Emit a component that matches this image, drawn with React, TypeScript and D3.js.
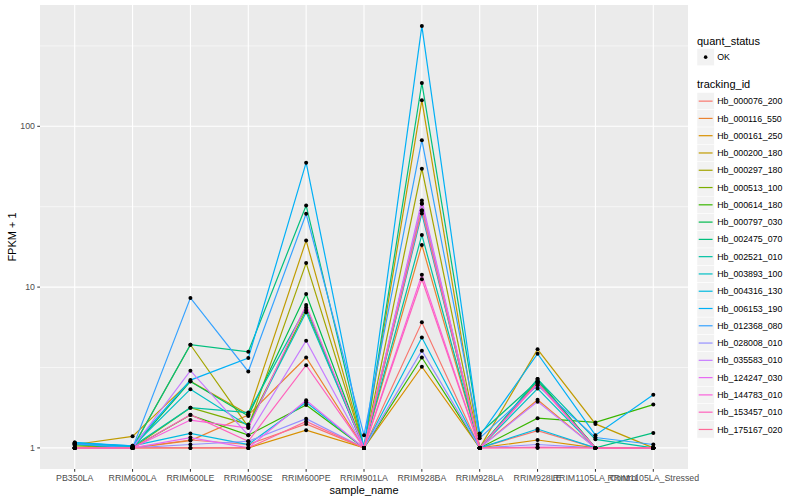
import React from "react";
import * as d3 from "d3";

const samples = [
  "PB350LA", "RRIM600LA", "RRIM600LE", "RRIM600SE", "RRIM600PE", "RRIM901LA",
  "RRIM928BA", "RRIM928LA", "RRIM928LE", "RRIM1105LA_Control", "RRIM1105LA_Stressed",
];

const trackingIds = [
  "Hb_000076_200", "Hb_000116_550", "Hb_000161_250", "Hb_000200_180", "Hb_000297_180",
  "Hb_000513_100", "Hb_000614_180", "Hb_000797_030", "Hb_002475_070", "Hb_002521_010",
  "Hb_003893_100", "Hb_004316_130", "Hb_006153_190", "Hb_012368_080", "Hb_028008_010",
  "Hb_035583_010", "Hb_124247_030", "Hb_144783_010", "Hb_153457_010", "Hb_175167_020",
];

const palette = [
  "#F8766D", "#EA8331", "#D89000", "#C09B00", "#A3A500", "#7CAE00", "#39B600", "#00BB4E",
  "#00BF7D", "#00C1A3", "#00BFC4", "#00BAE0", "#00B0F6", "#35A2FF", "#9590FF", "#C77CFF",
  "#E76BF3", "#FA62DB", "#FF62BC", "#FF6A98",
];

// FPKM + 1 per tracking id, in sample order
const fpkm: number[][] = [
  [1.0, 1.0, 1.12, 1.05, 1.41, 1.0, 6.04, 1.0, 1.28, 1.0, 1.0],
  [1.0, 1.0, 1.11, 1.6, 3.65, 1.0, 18.3, 1.0, 1.99, 1.0, 1.0],
  [1.0, 1.0, 1.0, 1.0, 1.29, 1.0, 3.2, 1.0, 1.12, 1.0, 1.0],
  [1.05, 1.18, 2.6, 1.62, 19.5, 1.0, 145, 1.0, 4.1, 1.41, 1.0],
  [1.03, 1.0, 4.38, 1.35, 14.1, 1.0, 54.5, 1.0, 2.55, 1.0, 1.0],
  [1.0, 1.0, 1.78, 1.4, 7.2, 1.0, 30, 1.0, 2.6, 1.0, 1.0],
  [1.0, 1.0, 1.6, 1.2, 1.85, 1.0, 3.65, 1.0, 1.53, 1.44, 1.86],
  [1.05, 1.0, 2.59, 1.58, 9.07, 1.0, 33, 1.0, 2.68, 1.0, 1.0],
  [1.05, 1.0, 4.38, 3.96, 32.2, 1.0, 186, 1.23, 2.6, 1.0, 1.24],
  [1.07, 1.02, 1.78, 1.66, 7.48, 1.0, 21.1, 1.0, 2.68, 1.13, 1.0],
  [1.08, 1.02, 2.32, 1.37, 6.97, 1.0, 28.7, 1.0, 2.34, 1.0, 1.0],
  [1.07, 1.03, 1.23, 1.05, 1.92, 1.0, 4.86, 1.0, 1.31, 1.0, 1.0],
  [1.08, 1.03, 2.64, 3.62, 59.4, 1.0, 420, 1.19, 3.85, 1.2, 2.14],
  [1.06, 1.0, 8.57, 2.99, 28.6, 1.2, 82, 1.15, 2.45, 1.16, 1.05],
  [1.0, 1.0, 1.05, 1.1, 1.52, 1.0, 4.02, 1.0, 1.05, 1.0, 1.0],
  [1.0, 1.0, 3.02, 1.2, 4.64, 1.0, 34.6, 1.0, 1.94, 1.0, 1.0],
  [1.0, 1.0, 1.16, 1.0, 1.98, 1.0, 33.1, 1.0, 1.01, 1.0, 1.0],
  [1.0, 1.0, 1.49, 1.33, 7.75, 1.0, 11.95, 1.0, 2.5, 1.0, 1.0],
  [1.0, 1.0, 1.61, 1.1, 3.27, 1.0, 11.2, 1.0, 2.55, 1.0, 1.0],
  [1.0, 1.0, 1.0, 1.0, 1.46, 1.0, 30, 1.0, 1.0, 1.0, 1.0],
];

const yTicks = [1, 10, 100];
const yMinor = [Math.pow(10, 0.5), Math.pow(10, 1.5), Math.pow(10, 2.5)];

const W = 800, H = 500;
const panel = { left: 40, right: 688, top: 5, bottom: 469 };
const FONT = "'Liberation Sans', Arial, Helvetica, sans-serif";

export default function App() {
  const all = fpkm.flat();
  const lmin = Math.log10(d3.min(all)!);
  const lmax = Math.log10(d3.max(all)!);
  const exp = (lmax - lmin) * 0.05;
  const y = d3.scaleLog()
    .domain([Math.pow(10, lmin - exp), Math.pow(10, lmax + exp)])
    .range([panel.bottom, panel.top]);
  const x = d3.scalePoint<string>()
    .domain(samples)
    .range([panel.left, panel.right])
    .padding(0.6);

  const line = d3.line<number>()
    .x((_, i) => x(samples[i])!)
    .y((v) => y(v));

  const legX = 697;
  const keySize = 17.28;

  return (
    <svg width={W} height={H} style={{ position: "absolute", left: 0, top: 0, background: "#fff" }}
      fontFamily={FONT}>
      <rect x={panel.left} y={panel.top} width={panel.right - panel.left}
        height={panel.bottom - panel.top} fill="#EBEBEB" />
      {yMinor.filter((v) => y(v) >= panel.top && y(v) <= panel.bottom).map((v, i) => (
        <line key={"ym" + i} x1={panel.left} x2={panel.right} y1={y(v)} y2={y(v)}
          stroke="#fff" strokeWidth={0.55} />
      ))}
      {yTicks.map((v, i) => (
        <line key={"yg" + i} x1={panel.left} x2={panel.right} y1={y(v)} y2={y(v)}
          stroke="#fff" strokeWidth={1.1} />
      ))}
      {samples.map((s) => (
        <line key={"xg" + s} x1={x(s)} x2={x(s)} y1={panel.top} y2={panel.bottom}
          stroke="#fff" strokeWidth={1.1} />
      ))}
      {fpkm.map((vals, i) => (
        <path key={"l" + i} d={line(vals)!} fill="none" stroke={palette[i]} strokeWidth={1.2} />
      ))}
      {fpkm.map((vals, i) => vals.map((v, j) => (
        <circle key={"p" + i + "_" + j} cx={x(samples[j])} cy={y(v)} r={2} fill="#000" />
      )))}
      {/* y axis */}
      {yTicks.map((v, i) => (
        <g key={"yt" + i}>
          <line x1={panel.left - 2.75} x2={panel.left} y1={y(v)} y2={y(v)} stroke="#333" strokeWidth={1} />
          <text x={panel.left - 5} y={y(v)} dy="0.35em" textAnchor="end" fontSize={8.8} fill="#4D4D4D">
            {v}
          </text>
        </g>
      ))}
      {/* x axis */}
      {samples.map((s) => (
        <g key={"xt" + s}>
          <line x1={x(s)} x2={x(s)} y1={panel.bottom} y2={panel.bottom + 2.75} stroke="#333" strokeWidth={1} />
          <text x={x(s)} y={panel.bottom + 12} textAnchor="middle" fontSize={8.8} fill="#4D4D4D">
            {s}
          </text>
        </g>
      ))}
      <text x={(panel.left + panel.right) / 2} y={494} textAnchor="middle" fontSize={11} fill="#000">
        sample_name
      </text>
      <text transform={`translate(16,${(panel.top + panel.bottom) / 2}) rotate(-90)`} textAnchor="middle"
        fontSize={11} fill="#000">
        FPKM + 1
      </text>
      {/* legend: quant_status */}
      <text x={legX} y={44.5} fontSize={11} fill="#000">quant_status</text>
      <rect x={legX} y={48.5} width={keySize} height={keySize} fill="#F2F2F2" stroke="#fff" strokeWidth={0.5} />
      <circle cx={legX + keySize / 2} cy={48.5 + keySize / 2} r={1.8} fill="#000" />
      <text x={legX + keySize + 3} y={48.5 + keySize / 2} dy="0.35em" fontSize={8.8} fill="#000">OK</text>
      {/* legend: tracking_id */}
      <text x={legX} y={88} fontSize={11} fill="#000">tracking_id</text>
      {trackingIds.map((id, i) => {
        const ky = 92.5 + i * keySize;
        return (
          <g key={"lg" + id}>
            <rect x={legX} y={ky} width={keySize} height={keySize} fill="#F2F2F2" stroke="#fff" strokeWidth={0.5} />
            <line x1={legX + 1.7} x2={legX + keySize - 1.7} y1={ky + keySize / 2} y2={ky + keySize / 2}
              stroke={palette[i]} strokeWidth={1.2} />
            <text x={legX + keySize + 3} y={ky + keySize / 2} dy="0.35em" fontSize={8.8} fill="#000">{id}</text>
          </g>
        );
      })}
    </svg>
  );
}
